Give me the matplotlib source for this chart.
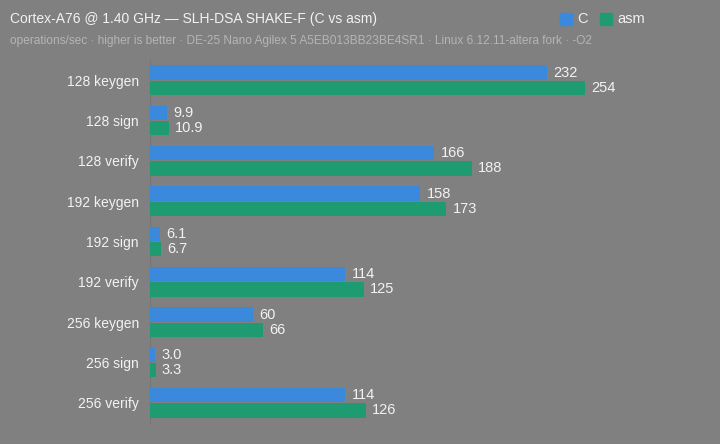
import matplotlib
matplotlib.use("Agg")
import matplotlib.pyplot as plt
import numpy as np

plt.rcParams['font.family'] = ['Liberation Sans', 'DejaVu Sans']

categories = ["128 keygen", "128 sign", "128 verify",
              "192 keygen", "192 sign", "192 verify",
              "256 keygen", "256 sign", "256 verify"]
c_vals = [232, 9.9, 166, 158, 6.1, 114, 60, 3.0, 114]
asm_vals = [254, 10.9, 188, 173, 6.7, 125, 66, 3.3, 126]
series_names = ["C", "asm"]

BG = "#808080"
BLUE = "#3a89dd"
GREEN = "#1f9b72"
TXT = "#f2f2f2"
SUB = "#b5b5b5"


def fmt(v):
    return f"{v:.1f}" if v < 20 else f"{v:.0f}"


fig = plt.figure(figsize=(7.2, 4.44), dpi=100, facecolor=BG)
ax = fig.add_axes([150 / 720, 1 - 423 / 444, 550 / 720, 363 / 444])
ax.set_facecolor(BG)

y = np.arange(len(categories))
off = 0.19
h = 0.35
ax.barh(y - off, c_vals, height=h, color=BLUE, zorder=3)
ax.barh(y + off, asm_vals, height=h, color=GREEN, zorder=3)

for yi, v in zip(y, c_vals):
    ax.annotate(fmt(v), (v, yi - off), xytext=(4.5, 0), textcoords="offset points",
                va="center", ha="left", color=TXT, fontsize=10.5)
for yi, v in zip(y, asm_vals):
    ax.annotate(fmt(v), (v, yi + off), xytext=(4.5, 0), textcoords="offset points",
                va="center", ha="left", color=TXT, fontsize=10.5)

ax.set_xlim(0, 321.3)
ax.set_ylim(len(categories) - 0.5, -0.5)
ax.set_yticks(y)
ax.set_yticklabels(categories, color=TXT, fontsize=10)
ax.tick_params(axis="y", length=0, pad=8)
ax.set_xticks([])
for s in ["top", "right", "bottom"]:
    ax.spines[s].set_visible(False)
ax.spines["left"].set_color("#767676")
ax.spines["left"].set_linewidth(0.8)

fig.text(10 / 720, 1 - 19 / 444, "Cortex-A76 @ 1.40 GHz \u2014 SLH-DSA SHAKE-F (C vs asm)",
         color=TXT, fontsize=10, va="center", ha="left")
fig.text(10 / 720, 1 - 41 / 444,
         "operations/sec \u00b7 higher is better \u00b7 DE-25 Nano Agilex 5 A5EB013BB23BE4SR1 \u00b7 Linux 6.12.11-altera fork \u00b7 -O2",
         color=SUB, fontsize=8.6, va="center", ha="left")

# legend
for x0, col, name in [(560, BLUE, series_names[0]), (600, GREEN, series_names[1])]:
    fig.patches.append(plt.Rectangle((x0 / 720, 1 - 25 / 444), 12 / 720, 12 / 444,
                                     transform=fig.transFigure, color=col, figure=fig))
    fig.text((x0 + 17) / 720, 1 - 19 / 444, name, color=TXT, fontsize=10.5,
             va="center", ha="left")

fig.savefig("out.png", dpi=100, facecolor=BG)
